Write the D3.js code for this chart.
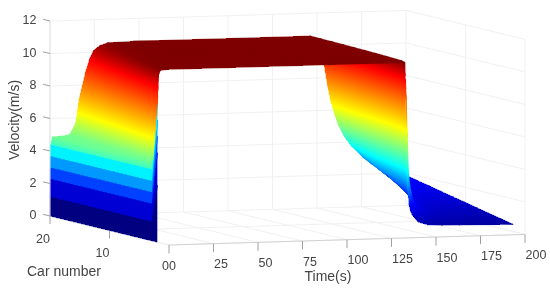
<!DOCTYPE html>
<html>
<head>
<meta charset="utf-8">
<script src="https://cdn.jsdelivr.net/npm/d3@7/dist/d3.min.js"></script>
<style>
html,body{margin:0;padding:0;background:#fff;}
svg{display:block;filter:blur(0.45px);}
text{font-family:"Liberation Sans",Arial,sans-serif;fill:#444;}
</style>
</head>
<body>
<div id="chart"></div>
<script>
const timeTicks = [0, 25, 50, 75, 100, 125, 150, 175, 200];
const timeTickLabels = ['00', '25', '50', '75', '100', '125', '150', '175', '200'];
const carTicks = [20, 10];
const speedTicks = [0, 2, 4, 6, 8, 10, 12];

// one row per car, back to front
const cars = [20, 18, 16, 14, 12, 10, 8, 6, 4, 3, 2];

// the launch: every car climbs to its first speed right at t = 0
const launchTimes = [0, 0.05, 0.1, 0.15, 0.2, 0.25];

const riseTimes = [
  [1.4, 10.4, 12, 14.5, 16.3, 20, 22.3, 24.4, 28, 32.3, 47],
  [1.28, 9.28, 10.7, 12.94, 14.6, 17.87, 19.9, 21.8, 25.1, 28.9, 42.3],
  [1.16, 8.17, 9.4, 11.4, 12.8, 15.7, 17.6, 19.25, 22.1, 25.6, 37.7],
  [1.03, 7.05, 8.1, 9.8, 11, 13.6, 15.2, 16.7, 19.2, 22.2, 33],
  [0.91, 5.9, 6.85, 8.3, 9.3, 11.5, 12.85, 14.1, 16.2, 18.8, 28.3],
  [0.79, 4.8, 5.55, 6.7, 7.5, 9.3, 10.45, 11.5, 13.3, 15.5, 23.7],
  [0.67, 3.7, 4.3, 5.1, 5.75, 7.2, 8.1, 8.9, 10.3, 12.1, 19],
  [0.55, 2.6, 3, 3.6, 4, 5.1, 5.7, 6.4, 7.4, 8.7, 14.3],
  [0.42, 1.5, 1.7, 2, 2.2, 3, 3.4, 3.8, 4.4, 5.4, 9.7],
  [0.36, 0.9, 1, 1.2, 1.35, 1.9, 2.2, 2.5, 2.9, 3.7, 7.3],
  [0.3, 0.35, 0.4, 0.45, 0.5, 0.8, 1, 1.2, 1.5, 2, 5],
];
const riseSpeeds = [0, 1.2, 2.3, 3, 3.7, 4.4, 4.85, 4.95, 5.15, 5.7, 7.1, 8.8, 9.6, 10.1, 10.4, 10.55, 10.6];
const leadRiseSpeeds = [0, 3.5, 5.5, 6.5, 7.5, 8.5, 9, 9.4, 9.55, 9.7, 10, 10.3, 10.4, 10.45, 10.5, 10.55, 10.6];

const fallTimes = [
  [146, 150, 152.5, 154, 155.9, 157.6, 160, 162, 165, 169, 175.6, 182, 188.5, 192, 196, 200],
  [145.6, 149.4, 151.8, 153.2, 155, 156.6, 158.9, 160.8, 163.6, 167.4, 173.6, 179.9, 186.3, 190.1, 194.9, 200],
  [145.2, 148.8, 151, 152.5, 154.2, 155.6, 157.8, 159.7, 162.2, 165.5, 171.7, 177.8, 184.1, 188.2, 193.2, 200],
  [144.8, 148.1, 150.1, 151.4, 153, 154.5, 156.5, 158.2, 160.7, 164, 169.6, 175.4, 181.8, 186.1, 191.2, 200],
  [144.3, 147.3, 149.2, 150.4, 151.9, 153.2, 155, 156.7, 159, 162.2, 167.4, 172.9, 179.2, 183.8, 189.4, 200],
  [143.8, 146.5, 148.2, 149.3, 150.7, 151.9, 153.6, 155.1, 157.2, 160, 164.8, 170.2, 176.3, 181.3, 187.3, 200],
  [143.2, 145.6, 147.1, 148, 149.3, 150.3, 151.8, 153.2, 155.1, 157.7, 161.9, 167, 173.1, 178.5, 185, 200],
  [142.5, 144.5, 145.7, 146.5, 147.6, 148.5, 149.8, 151, 152.6, 154.9, 158.5, 163.3, 169.2, 175.1, 182.2, 200],
  [141.5, 143, 144, 144.6, 145.4, 146.1, 147.1, 148.1, 149.4, 151.3, 154.1, 158.4, 164.2, 170.7, 178.7, 200],
  [140.9, 142, 142.7, 143.2, 143.9, 144.5, 145.3, 146.1, 147.1, 148.7, 150.9, 155, 160.6, 167.6, 176.1, 200],
  [139.3, 139.5, 139.7, 139.9, 140.2, 140.4, 140.7, 141.2, 141.6, 142.4, 143.3, 146.6, 152, 160, 170, 200],
];
const fallSpeeds = [
  [10.6, 10.2, 9.5, 8.8, 7.55, 6.6, 5.7, 5.07, 4.4, 3.8, 3.06, 2.6, 2.2, 2.05, 1.95, 1.85],
  [10.6, 10.16, 9.44, 8.74, 7.38, 6.27, 5.37, 4.76, 4.11, 3.54, 2.85, 2.4, 2.02, 1.88, 1.79, 1.69],
  [10.6, 10.13, 9.39, 8.69, 7.2, 5.95, 5.04, 4.45, 3.83, 3.28, 2.65, 2.19, 1.84, 1.71, 1.63, 1.54],
  [10.6, 10.07, 9.33, 8.63, 7.03, 5.62, 4.72, 4.15, 3.54, 2.94, 2.44, 2, 1.66, 1.54, 1.47, 1.38],
  [10.6, 10.03, 9.28, 8.58, 6.86, 5.3, 4.39, 3.84, 3.24, 2.72, 2.23, 1.78, 1.48, 1.37, 1.33, 1.22],
  [10.6, 9.98, 9.22, 8.52, 6.69, 4.97, 4.06, 3.55, 2.97, 2.49, 2.03, 1.58, 1.29, 1.2, 1.14, 1.07],
  [10.6, 9.93, 9.17, 8.47, 6.52, 4.65, 3.73, 3.22, 2.68, 2.23, 1.82, 1.37, 1.11, 1.03, 0.98, 0.91],
  [10.6, 9.9, 9.11, 8.41, 6.34, 4.3, 3.4, 2.92, 2.42, 1.98, 1.61, 1.17, 0.93, 0.86, 0.82, 0.75],
  [10.6, 9.85, 9.06, 8.35, 6.17, 3.93, 3.07, 2.6, 2.11, 1.71, 1.41, 0.97, 0.75, 0.68, 0.66, 0.6],
  [10.6, 9.82, 9.03, 8.33, 6.08, 3.8, 2.91, 2.45, 1.96, 1.58, 1.3, 0.86, 0.66, 0.61, 0.58, 0.52],
  [10.6, 9.8, 9, 8.3, 6, 3.67, 2.75, 2.3, 1.82, 1.45, 1.2, 0.76, 0.57, 0.52, 0.5, 0.44],
];

const colorSpeeds = [0, 1.8, 3.8, 6.3, 9.5, 10.6];
const colorRamp = ['#000080', '#0000ff', '#00ffff', '#ffff00', '#ff0000', '#7f0000'];

const width = 550, height = 289;
const color = d3.scaleLinear().domain(colorSpeeds).range(colorRamp).clamp(true);

// oblique projection of the axes box: each data axis moves the pen along its own screen vector
const originX = 169, originY = 245;
const timeDX = d3.scaleLinear().domain([0, 200]).range([0, 356]);
const timeDY = d3.scaleLinear().domain([0, 200]).range([0, -10.6]);
const carDX = d3.scaleLinear().domain([0, 20]).range([0, -119]);
const carDY = d3.scaleLinear().domain([0, 20]).range([0, -29]);
const speedDY = d3.scaleLinear().domain([0, 12]).range([0, -195]);

const project = (t, c, v) => [
  originX + timeDX(t) + carDX(c),
  originY + timeDY(t) + carDY(c) + speedDY(v),
];
// bigger means further from the viewer
const depth = (t, c, v) => t / 200 + 3 * c / 20 - 0.5 * v / 12;

const svg = d3.select('#chart').append('svg')
  .attr('width', width).attr('height', height)
  .attr('viewBox', `0 0 ${width} ${height}`)
  .style('background', '#fff');
const defs = svg.append('defs');

// grid on the three far faces
const gridColor = '#f1f1f1';
const grid = svg.append('g').attr('stroke', gridColor).attr('fill', 'none').attr('stroke-width', 1);
const segment = (g, a, b, stroke) => g.append('line')
  .attr('x1', a[0]).attr('y1', a[1]).attr('x2', b[0]).attr('y2', b[1])
  .attr('stroke', stroke || null);

timeTicks.forEach(t => {
  segment(grid, project(t, 20, 0), project(t, 20, 12));
  segment(grid, project(t, 0, 0), project(t, 20, 0));
});
speedTicks.forEach(v => {
  segment(grid, project(0, 20, v), project(200, 20, v));
  segment(grid, project(200, 20, v), project(200, 0, v));
});
[0, 10].forEach(c => {
  segment(grid, project(0, c, 0), project(200, c, 0));
  segment(grid, project(200, c, 0), project(200, c, 12));
});
segment(grid, project(0, 20, 0), project(0, 0, 0));

// surface, drawn far to near as triangles shaded by speed
const grid3d = cars.map((c, i) => {
  const rise = i === cars.length - 1 ? leadRiseSpeeds : riseSpeeds;
  const times = launchTimes.concat(riseTimes[i], fallTimes[i]);
  const speeds = rise.concat(fallSpeeds[i]);
  return times.map((t, k) => ({ t, c, v: speeds[k] }));
});

const triangles = [];
d3.pairs(grid3d).forEach(([far, near]) => {
  d3.range(far.length - 1).forEach(k => {
    const a = far[k], b = far[k + 1], d = near[k], e = near[k + 1];
    const flat = k < launchTimes.length - 1 ? color(Math.min(a.v, d.v)) : null;
    triangles.push({ pts: [a, b, e], flat }, { pts: [a, e, d], flat });
  });
});
triangles.forEach(tri => {
  tri.depth = d3.mean(tri.pts, p => depth(p.t, p.c, p.v));
});
triangles.sort((p, q) => q.depth - p.depth);

// crisp edges so neighbouring triangles leave no pale seams; the page blur softens the outline
const surface = svg.append('g').attr('stroke-width', 0.5).attr('stroke-linejoin', 'round')
  .attr('shape-rendering', 'crispEdges');
triangles.forEach((tri, idx) => {
  const xy = tri.pts.map(p => project(p.t, p.c, p.v));
  const vs = tri.pts.map(p => p.v);
  let paint = tri.flat;
  const vMin = d3.min(vs), vMax = d3.max(vs);
  const det = (xy[1][0] - xy[0][0]) * (xy[2][1] - xy[0][1]) - (xy[2][0] - xy[0][0]) * (xy[1][1] - xy[0][1]);
  if (!paint && (vMax - vMin < 0.01 || Math.abs(det) < 1e-3)) paint = color((vMin + vMax) / 2);
  if (!paint) {
    // speed is linear over a flat triangle, so a straight gradient colours it exactly
    const a = ((vs[1] - vs[0]) * (xy[2][1] - xy[0][1]) - (vs[2] - vs[0]) * (xy[1][1] - xy[0][1])) / det;
    const b = ((vs[2] - vs[0]) * (xy[1][0] - xy[0][0]) - (vs[1] - vs[0]) * (xy[2][0] - xy[0][0])) / det;
    const low = xy[vs.indexOf(vMin)];
    const reach = (vMax - vMin) / (a * a + b * b);
    const id = 'tri' + idx;
    const grad = defs.append('linearGradient').attr('id', id)
      .attr('gradientUnits', 'userSpaceOnUse')
      .attr('x1', low[0]).attr('y1', low[1])
      .attr('x2', low[0] + a * reach).attr('y2', low[1] + b * reach);
    const stops = [vMin, ...colorSpeeds.filter(s => s > vMin && s < vMax), vMax];
    stops.forEach(s => grad.append('stop')
      .attr('offset', (s - vMin) / (vMax - vMin))
      .attr('stop-color', color(s)));
    paint = `url(#${id})`;
  }
  surface.append('polygon')
    .attr('points', xy.map(p => p.join(',')).join(' '))
    .attr('fill', paint).attr('stroke', paint);
});

// axes
const axes = svg.append('g').attr('fill', 'none').attr('stroke-width', 1);
const axisColor = '#d2d2d2', tickColor = '#a0a0a0';
segment(axes, project(0, 0, 0), project(200, 0, 0), axisColor);
segment(axes, project(0, 20, 0), project(0, 20, 12), '#e2e2e2');

const labels = svg.append('g').attr('font-size', 12.5);

speedTicks.forEach(v => {
  const p = project(0, 20, v);
  segment(axes, p, [p[0] - 7, p[1] - 1.7], tickColor);
  labels.append('text').attr('x', 36.5).attr('y', p[1] + 3).attr('text-anchor', 'end').text(v);
});
carTicks.forEach(c => {
  const p = project(0, c, 0);
  segment(axes, p, [p[0], p[1] + 8], tickColor);
  labels.append('text').attr('x', p[0] - 7).attr('y', p[1] + 26.5).attr('text-anchor', 'middle').text(c);
});
timeTicks.forEach((t, i) => {
  const p = project(t, 0, 0);
  segment(axes, p, [p[0], p[1] + 8.5], tickColor);
  labels.append('text')
    .attr('x', p[0] + (i ? 0.5 : 0)).attr('y', p[1] + 24.5)
    .attr('text-anchor', i ? 'start' : 'middle').text(timeTickLabels[i]);
});

const titles = svg.append('g').attr('font-size', 14);
titles.append('text').attr('x', 27).attr('y', 276).text('Car number');
titles.append('text').attr('x', 328).attr('y', 280.5).attr('text-anchor', 'middle').text('Time(s)');
titles.append('text').attr('transform', 'translate(19,120) rotate(-90)')
  .attr('text-anchor', 'middle').text('Velocity(m/s)');
</script>
</body>
</html>
